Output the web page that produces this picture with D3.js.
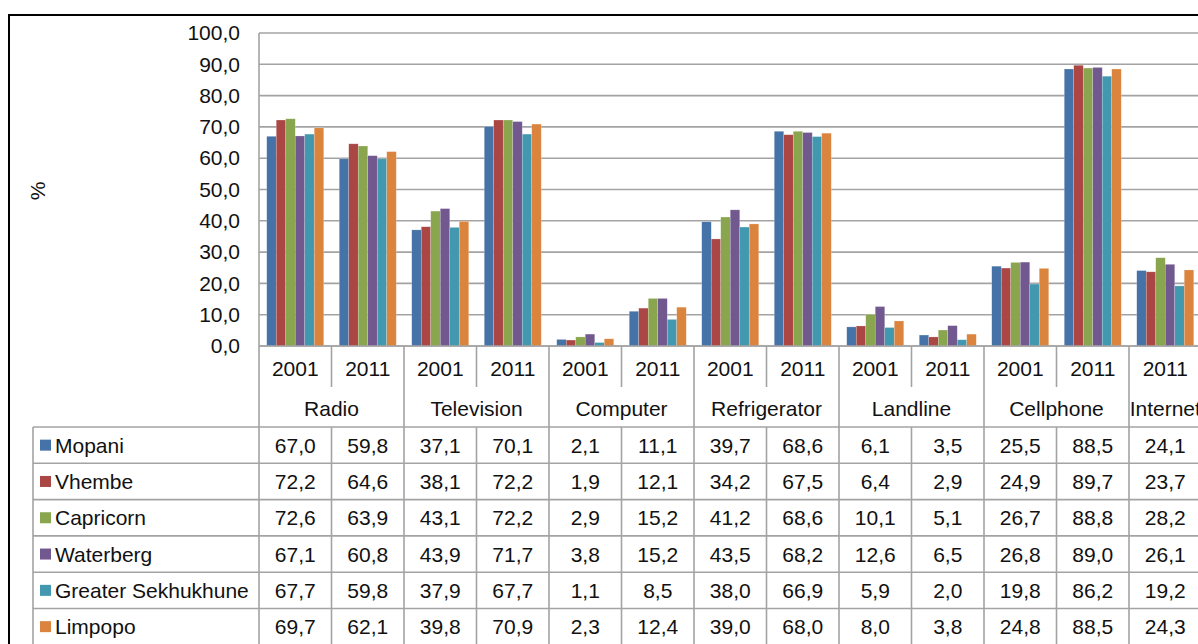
<!DOCTYPE html>
<html>
<head>
<meta charset="utf-8">
<script src="https://cdn.jsdelivr.net/npm/d3@7"></script>
<style>
  html, body { margin: 0; padding: 0; background: #fff; }
  svg { display: block; font-family: "Liberation Sans", Arial, sans-serif; }
</style>
</head>
<body>
<script>
// categories and the years reported for each
const categories = ["Radio", "Television", "Computer", "Refrigerator", "Landline", "Cellphone", "Internet"];
const categoryYears = [
  ["2001", "2011"], ["2001", "2011"], ["2001", "2011"], ["2001", "2011"],
  ["2001", "2011"], ["2001", "2011"], ["2011"]
];

const seriesNames = ["Mopani", "Vhembe", "Capricorn", "Waterberg", "Greater Sekhukhune", "Limpopo"];
const seriesColors = ["#4572a7", "#aa4643", "#89a54e", "#71588f", "#4198af", "#db843d"];

// one value per year column, same order as categories/categoryYears
const mopani    = [67.0, 59.8, 37.1, 70.1, 2.1, 11.1, 39.7, 68.6, 6.1, 3.5, 25.5, 88.5, 24.1];
const vhembe    = [72.2, 64.6, 38.1, 72.2, 1.9, 12.1, 34.2, 67.5, 6.4, 2.9, 24.9, 89.7, 23.7];
const capricorn = [72.6, 63.9, 43.1, 72.2, 2.9, 15.2, 41.2, 68.6, 10.1, 5.1, 26.7, 88.8, 28.2];
const waterberg = [67.1, 60.8, 43.9, 71.7, 3.8, 15.2, 43.5, 68.2, 12.6, 6.5, 26.8, 89.0, 26.1];
const sekhukhune = [67.7, 59.8, 37.9, 67.7, 1.1, 8.5, 38.0, 66.9, 5.9, 2.0, 19.8, 86.2, 19.2];
const limpopo   = [69.7, 62.1, 39.8, 70.9, 2.3, 12.4, 39.0, 68.0, 8.0, 3.8, 24.8, 88.5, 24.3];
const seriesValues = [mopani, vhembe, capricorn, waterberg, sekhukhune, limpopo];

const yTicks = [0, 10, 20, 30, 40, 50, 60, 70, 80, 90, 100];

/**
 * LAYOUT
 */
const W = 1198, H = 644;
const PLOT_LEFT = 259, PLOT_TOP = 33, PLOT_BOTTOM = 346;
const COL_W = 72.5;
const YEAR_ROW_Y = 368, CAT_ROW_Y = 408;
const TABLE_TOP = 427, ROW_H = 36.3, TABLE_LEFT = 33;
const GRID = "#a3a3a3";
const FONT = 21;

const fmt = (v) => d3.format(".1f")(v).replace(".", ",");

// flatten into columns
const columns = [];
categories.forEach((c, ci) => {
  categoryYears[ci].forEach((yr, k) => {
    columns.push({ key: c + "-" + yr, cat: c, ci, year: yr, first: k === 0 });
  });
});

const svg = d3.select("body").append("svg").attr("width", W).attr("height", H);

const x = d3.scaleBand()
  .domain(columns.map((d) => d.key))
  .range([PLOT_LEFT, PLOT_LEFT + columns.length * COL_W]);
const xInner = d3.scaleBand()
  .domain(seriesNames)
  .range([7.75, COL_W - 7.75]);
const y = d3.scaleLinear().domain([0, 100]).range([PLOT_BOTTOM, PLOT_TOP]);

// gridlines
svg.append("g")
  .selectAll("line")
  .data(yTicks)
  .join("line")
  .attr("x1", PLOT_LEFT)
  .attr("x2", W)
  .attr("y1", (d) => y(d))
  .attr("y2", (d) => y(d))
  .attr("stroke", GRID)
  .attr("stroke-width", 1.6);

// y axis labels
const yAxis = svg.append("g")
  .attr("transform", `translate(${PLOT_LEFT - 19},0)`)
  .call(d3.axisLeft(y).tickValues(yTicks).tickFormat(fmt).tickSize(0).tickPadding(0));
yAxis.select(".domain").remove();
yAxis.selectAll("text")
  .attr("font-size", FONT)
  .attr("font-family", "'Liberation Sans', Arial, sans-serif")
  .attr("fill", "#111");

svg.append("text")
  .attr("transform", "translate(45,191) rotate(-90)")
  .attr("text-anchor", "middle")
  .attr("font-size", FONT)
  .attr("fill", "#111")
  .text("%");

// bars
const barData = [];
columns.forEach((col, i) => {
  seriesNames.forEach((s, si) => {
    barData.push({ col, s, si, v: seriesValues[si][i] });
  });
});
svg.append("g")
  .selectAll("rect")
  .data(barData)
  .join("rect")
  .attr("x", (d) => x(d.col.key) + xInner(d.s))
  .attr("width", xInner.bandwidth())
  .attr("y", (d) => y(d.v))
  .attr("height", (d) => y(0) - y(d.v))
  .attr("fill", (d) => seriesColors[d.si])
  .attr("stroke", "rgba(255,255,255,0.35)")
  .attr("stroke-width", 0.6);

// table lines
const lines = svg.append("g").attr("stroke", GRID).attr("stroke-width", 1.6);
const tableBottom = TABLE_TOP + ROW_H * seriesNames.length + 5;

// x axis line and y axis line
lines.append("line")
  .attr("x1", PLOT_LEFT).attr("x2", W)
  .attr("y1", PLOT_BOTTOM).attr("y2", PLOT_BOTTOM);
lines.append("line")
  .attr("x1", PLOT_LEFT).attr("x2", PLOT_LEFT)
  .attr("y1", PLOT_TOP).attr("y2", tableBottom);

// vertical separators for each column
columns.forEach((col) => {
  const cx = x(col.key);
  if (cx === PLOT_LEFT) return;
  if (col.first) {
    lines.append("line").attr("x1", cx).attr("x2", cx)
      .attr("y1", PLOT_BOTTOM).attr("y2", tableBottom);
  } else {
    lines.append("line").attr("x1", cx).attr("x2", cx)
      .attr("y1", PLOT_BOTTOM).attr("y2", 387);
    lines.append("line").attr("x1", cx).attr("x2", cx)
      .attr("y1", TABLE_TOP).attr("y2", tableBottom);
  }
});

// horizontal rows of the data table
lines.selectAll(".row")
  .data(d3.range(seriesNames.length + 1))
  .join("line")
  .attr("x1", TABLE_LEFT).attr("x2", W)
  .attr("y1", (i) => TABLE_TOP + i * ROW_H)
  .attr("y2", (i) => TABLE_TOP + i * ROW_H);
lines.append("line")
  .attr("x1", TABLE_LEFT).attr("x2", TABLE_LEFT)
  .attr("y1", TABLE_TOP).attr("y2", tableBottom);

// year labels
svg.append("g")
  .selectAll("text")
  .data(columns)
  .join("text")
  .attr("x", (d) => x(d.key) + COL_W / 2)
  .attr("y", YEAR_ROW_Y)
  .attr("dy", "0.36em")
  .attr("text-anchor", "middle")
  .attr("font-size", FONT)
  .attr("fill", "#111")
  .text((d) => d.year);

// category labels
svg.append("g")
  .selectAll("text")
  .data(categories)
  .join("text")
  .attr("x", (c, ci) => {
    const cols = columns.filter((d) => d.ci === ci);
    return x(cols[0].key) + (cols.length * COL_W) / 2;
  })
  .attr("y", CAT_ROW_Y)
  .attr("dy", "0.36em")
  .attr("text-anchor", "middle")
  .attr("font-size", FONT)
  .attr("fill", "#111")
  .text((c) => c);

// data rows
const rows = svg.append("g")
  .selectAll("g")
  .data(seriesNames)
  .join("g")
  .attr("transform", (s, si) => `translate(0,${TABLE_TOP + si * ROW_H + ROW_H / 2})`);

rows.append("rect")
  .attr("x", 40).attr("y", -5.5)
  .attr("width", 11).attr("height", 11)
  .attr("fill", (s, si) => seriesColors[si]);
rows.append("text")
  .attr("x", 55)
  .attr("dy", "0.36em")
  .attr("font-size", FONT)
  .attr("fill", "#111")
  .text((s) => s);

rows.selectAll(".val")
  .data((s, si) => columns.map((col, i) => ({ col, v: seriesValues[si][i] })))
  .join("text")
  .attr("x", (d) => x(d.col.key) + COL_W / 2)
  .attr("dy", "0.36em")
  .attr("text-anchor", "middle")
  .attr("font-size", FONT)
  .attr("fill", "#111")
  .text((d) => fmt(d.v));

// outer frame
svg.append("rect")
  .attr("x", 9).attr("y", 15)
  .attr("width", W).attr("height", H)
  .attr("fill", "none")
  .attr("stroke", "#000")
  .attr("stroke-width", 2);
</script>
</body>
</html>
